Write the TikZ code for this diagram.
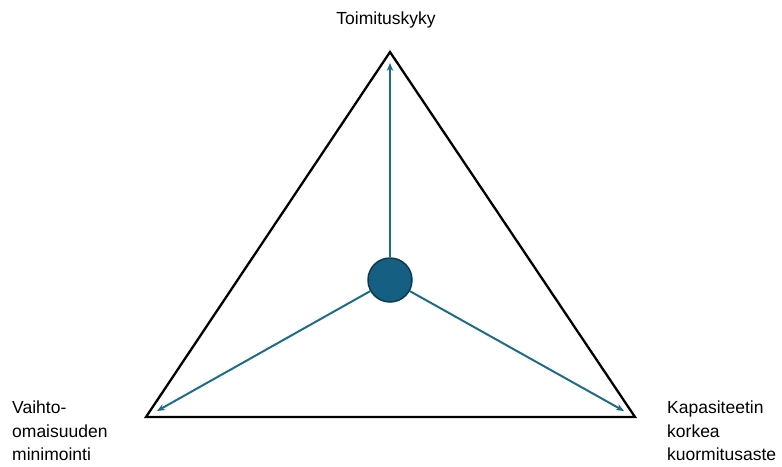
\documentclass[tikz,border=0pt]{standalone}
\usepackage{fontspec}
\setmainfont{Liberation Sans}
\usetikzlibrary{arrows.meta}
\definecolor{hub}{HTML}{156082}
\definecolor{hubedge}{HTML}{0E3A4E}
\definecolor{arr}{HTML}{1F6B8A}
\begin{document}
\begin{tikzpicture}[x=1pt,y=-1pt,
  lbl/.style={font=\fontsize{17.5}{23.5}\selectfont, inner sep=0pt},
  arrowline/.style={draw=arr, line width=2pt, -{Stealth[length=8pt,width=6.5pt]}}]
\useasboundingbox (0,0) rectangle (782,466);
\coordinate (A) at (390,52);
\coordinate (B) at (146,417);
\coordinate (C) at (635,417);
\draw[line width=2.3pt, line join=miter] (A) -- (B) -- (C) -- cycle;
\node[circle, fill=hub, draw=hubedge, line width=1.5pt, minimum size=44pt, inner sep=0pt] (hub) at (390,280) {};
\coordinate (tA) at (390,63);
\coordinate (tB) at (157,411);
\coordinate (tC) at (624,411);
\draw[arrowline] (hub) -- (tA);
\draw[arrowline] (hub) -- (tB);
\draw[arrowline] (hub) -- (tC);
\node[lbl] (top) at (386,20) {Toimituskyky};
\node[lbl, anchor=north west, align=left] (left) at (12,401) {Vaihto-\\omaisuuden\\minimointi};
\node[lbl, anchor=north west, align=left] (right) at (667,401) {Kapasiteetin\\korkea\\kuormitusaste};
\end{tikzpicture}
\end{document}
